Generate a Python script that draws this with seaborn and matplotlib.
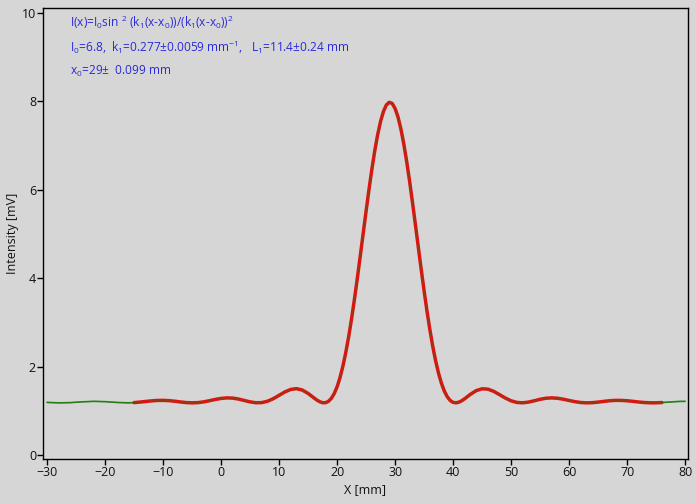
import matplotlib
matplotlib.use("Agg")
import matplotlib.pyplot as plt
import seaborn as sns
import pandas as pd

# ---- data ----
meas_x = [-15, -14, -13, -12, -11, -10, -9, -8, -7, -6, -5, -4, -3, -2, -1, 0, 1, 2, 3, 4,
          5, 6, 7, 8, 9, 10, 11, 12, 13, 14, 15, 16, 16.5, 17, 17.5, 18, 18.5, 19, 19.5,
          20, 20.5, 21, 21.5, 22, 22.5, 23, 23.5, 24, 24.5, 25, 25.5, 26, 26.5, 27, 27.5,
          28, 28.5, 29, 29.5, 30, 30.5, 31, 31.5, 32, 32.5, 33, 33.5, 34, 34.5, 35, 35.5,
          36, 36.5, 37, 37.5, 38, 38.5, 39, 39.5, 40, 40.5, 41, 41.5,
          42, 43, 44, 45, 46, 47, 48, 49, 50, 51, 52, 53, 54, 55, 56, 57, 58,
          59, 60, 61, 62, 63, 64, 65, 66, 67, 68, 69, 70, 71, 72, 73, 74, 75, 76]
meas_y = [1.185, 1.197, 1.211, 1.225, 1.234, 1.236, 1.230, 1.217, 1.200, 1.186, 1.180, 1.185,
          1.202, 1.228, 1.257, 1.280, 1.292, 1.287, 1.266, 1.234,
          1.202, 1.182, 1.185, 1.216, 1.274, 1.350, 1.427, 1.483, 1.501, 1.470, 1.393, 1.293,
          1.245, 1.206, 1.183, 1.183, 1.213, 1.279, 1.387,
          1.542, 1.748, 2.006, 2.318, 2.676, 3.083, 3.528, 4.005, 4.504, 5.011, 5.514, 6.005,
          6.464, 6.884, 7.246, 7.546, 7.772, 7.918, 7.978, 7.952, 7.838, 7.647, 7.376, 7.036,
          6.638, 6.195, 5.713, 5.213, 4.706, 4.203, 3.716, 3.256, 2.834, 2.454, 2.124, 1.845,
          1.619, 1.443, 1.317, 1.234, 1.191, 1.180, 1.195, 1.228,
          1.273, 1.374, 1.457, 1.498, 1.490, 1.440, 1.366, 1.289, 1.226,
          1.189, 1.181, 1.197, 1.227, 1.260, 1.284, 1.292, 1.284, 1.262, 1.234, 1.207, 1.188,
          1.180, 1.184, 1.197, 1.213, 1.228, 1.236, 1.235, 1.227, 1.214, 1.199, 1.187, 1.181,
          1.181, 1.187]

fit_left_x = [-30, -28, -26, -24, -22, -20, -18, -16]
fit_left_y = [1.190, 1.180, 1.185, 1.202, 1.214, 1.207, 1.189, 1.180]
fit_right_x = [77, 78, 79, 80]
fit_right_y = [1.196, 1.206, 1.212, 1.214]

x_ticks = [-30, -20, -10, 0, 10, 20, 30, 40, 50, 60, 70, 80]
y_ticks = [0, 2, 4, 6, 8, 10]

formula_lines = [
    r"I(x)=I$_0$sin $^2$ (k$_1$(x-x$_0$))/(k$_1$(x-x$_0$))$^2$",
    r"I$_0$=6.8,  k$_1$=0.277±0.0059 mm$^{-1}$,   L$_1$=11.4±0.24 mm",
    r"x$_0$=29±  0.099 mm",
]

# ---- style ----
sns.set_theme(style="ticks")
BG = "#d6d6d6"
plt.rcParams["font.family"] = ["Open Sans", "DejaVu Sans"]
plt.rcParams["mathtext.fontset"] = "custom"
plt.rcParams["mathtext.rm"] = "Open Sans"
plt.rcParams["mathtext.it"] = "Open Sans"
plt.rcParams["mathtext.default"] = "regular"

fig = plt.figure(figsize=(6.96, 5.04), dpi=100, facecolor=BG)
ax = fig.add_axes([43 / 696, 1 - 459 / 504, (688 - 43) / 696, (459 - 8) / 504])
ax.set_facecolor(BG)

fit_df = pd.DataFrame({"x": fit_left_x + meas_x + fit_right_x,
                       "y": fit_left_y + meas_y + fit_right_y})
meas_df = pd.DataFrame({"x": meas_x, "y": meas_y})

sns.lineplot(data=fit_df, x="x", y="y", ax=ax, color="#1e8c1e", linewidth=1.2,
             sort=False, zorder=2)
sns.lineplot(data=meas_df, x="x", y="y", ax=ax, color="#e21212", linewidth=2.5,
             sort=False, zorder=3)
sns.lineplot(data=fit_df, x="x", y="y", ax=ax, color="#3a6a10", linewidth=0.8,
             alpha=0.45, sort=False, zorder=4)

ax.set_xlim(-30.7, 80.5)
ax.set_ylim(-0.09, 10.11)
ax.set_xticks(x_ticks)
ax.set_yticks(y_ticks)
ax.tick_params(axis="both", direction="out", length=4, width=1, color="black",
               labelsize=9, labelcolor="#111111", pad=1)
for s in ax.spines.values():
    s.set_visible(True)
    s.set_color("black")
    s.set_linewidth(1)

ax.set_xlabel("X [mm]", fontsize=9, color="#111111", labelpad=3)
ax.set_ylabel("Intensity [mV]", fontsize=9, color="#111111", labelpad=2)

ys = [22, 47, 71]
for t, py in zip(formula_lines, ys):
    ax.text((70 - 43) / (688 - 43), 1 - (py - 8) / (459 - 8), t, transform=ax.transAxes,
            color="#2a2ad8", fontsize=8.6, va="center", ha="left")

fig.savefig("out.png", dpi=100, facecolor=BG)
